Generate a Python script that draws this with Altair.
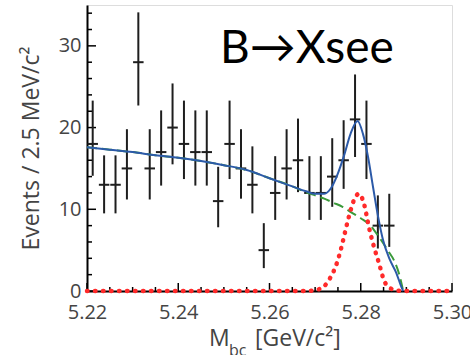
import altair as alt
import pandas as pd

# ---- data ----
bin_m = [5.22125, 5.22375, 5.22625, 5.22875, 5.23125, 5.23375, 5.23625, 5.23875,
         5.24125, 5.24375, 5.24625, 5.24875, 5.25125, 5.25375, 5.25625, 5.25875,
         5.26125, 5.26375, 5.26625, 5.26875, 5.27125, 5.27375, 5.27625, 5.27875,
         5.28125, 5.28375, 5.28625]
counts = [18, 13, 13, 15, 28, 15, 17, 20, 18, 17, 17, 11, 18, 15, 13, 5, 12, 15, 16,
          12, 12, 14, 16, 21, 18, 8, 8]
err_hi = [23.3, 16.6, 16.6, 19.8, 34.1, 19.8, 22.1, 25.4, 23.3, 22.1, 22.1, 15.2, 23.3,
          19.8, 17.7, 8.3, 16.5, 19.8, 21.1, 16.5, 16.5, 18.7, 20.9, 26.5, 23.3, 11.7, 11.9]
err_lo = [14.1, 9.5, 9.5, 11.2, 22.7, 11.2, 12.9, 15.5, 13.7, 12.9, 12.9, 7.8, 13.7,
          11.3, 9.5, 2.8, 8.7, 11.2, 12.1, 8.7, 8.7, 10.3, 12.5, 16.4, 13.7, 5.2, 5.4]
half_bin = 0.00115

bkg_m = [5.2200, 5.2250, 5.2300, 5.2350, 5.2400, 5.2450, 5.2500, 5.2550, 5.2600, 5.2650,
         5.2680, 5.2700, 5.2720, 5.2740, 5.2760, 5.2780, 5.2800, 5.2820, 5.2840, 5.2860,
         5.2875, 5.2885, 5.2893]
bkg_v = [17.6, 17.3, 17.0, 16.6, 16.3, 15.9, 15.4, 14.8, 13.8, 12.8, 12.1, 11.7, 11.3,
         10.8, 10.3, 9.6, 8.9, 8.1, 6.6, 4.9, 3.5, 1.9, 0.0]

tot_m = [5.2200, 5.2250, 5.2300, 5.2350, 5.2400, 5.2450, 5.2500, 5.2550, 5.2600, 5.2650,
         5.2680, 5.2700, 5.2720, 5.2735, 5.2750, 5.2763, 5.2778, 5.2793, 5.2805, 5.2816,
         5.2827, 5.2838, 5.2849, 5.2864, 5.2878, 5.2889, 5.2893]
tot_v = [17.6, 17.3, 17.0, 16.6, 16.3, 15.9, 15.4, 14.8, 13.8, 12.8, 12.2, 11.9, 11.9,
         12.6, 14.4, 16.5, 19.3, 20.8, 19.2, 16.4, 12.7, 9.1, 6.2, 3.8, 2.2, 0.5, 0.0]

sig_m = [5.2200, 5.2680, 5.2700, 5.2720, 5.2735, 5.2745, 5.2756, 5.2763, 5.2774, 5.2785,
         5.2796, 5.2807, 5.2818, 5.2829, 5.2840, 5.2851, 5.2866, 5.2880, 5.2900, 5.3000]
sig_v = [0, 0, 0.1, 0.6, 1.8, 3.0, 5.0, 6.6, 9.1, 11.1, 11.9, 10.7, 7.8, 5.4, 3.4, 1.3,
         0.3, 0.05, 0, 0]

x_labels = [5.22, 5.24, 5.26, 5.28, 5.30]
x_minor = [5.225, 5.23, 5.235, 5.245, 5.25, 5.255, 5.265, 5.27, 5.275, 5.285, 5.29, 5.295]
y_labels = [0, 10, 20, 30]
y_minor = [2, 4, 6, 8, 12, 14, 16, 18, 22, 24, 26, 28, 32, 34]

W, H = 365, 286
FONT = "Open Sans"
GREY = "#444444"

xscale = alt.Scale(domain=[5.22, 5.30], nice=False, zero=False)
yscale = alt.Scale(domain=[0, 35], nice=False, zero=False)

xaxis = alt.Axis(values=x_labels, format=".2f", labelFont=FONT, labelFontSize=20,
                 labelColor=GREY, ticks=False, grid=False, domainColor="black",
                 domainWidth=2, labelPadding=11, labelOverlap=False, labelFlush=False,
                 title=None)
yaxis = alt.Axis(values=y_labels, labelFont=FONT, labelFontSize=20, labelColor=GREY,
                 ticks=False, grid=False, domainColor="black", domainWidth=2,
                 labelPadding=6, title="Events / 2.5 MeV/c²", titleFont=FONT,
                 titleFontSize=23, titleFontWeight="normal", titleColor=GREY,
                 titlePadding=15)


def X(field="m"):
    return alt.X(f"{field}:Q", scale=xscale, axis=xaxis)


def Y(field="v"):
    return alt.Y(f"{field}:Q", scale=yscale, axis=yaxis)


pts = pd.DataFrame({"m": bin_m, "v": counts, "lo": err_lo, "hi": err_hi})
pts["m1"] = pts["m"] - half_bin
pts["m2"] = pts["m"] + half_bin

vbars = alt.Chart(pts).mark_rule(color="#1e1e1e", strokeWidth=2).encode(
    x=X(), y=Y("lo"), y2="hi:Q")
hbars = alt.Chart(pts).mark_rule(color="#1e1e1e", strokeWidth=2).encode(
    x=X("m1"), x2="m2:Q", y=Y())

bkg = alt.Chart(pd.DataFrame({"m": bkg_m, "v": bkg_v})).mark_line(
    color="#3a9a3a", strokeWidth=2, strokeDash=[10, 5], interpolate="monotone"
).encode(x=X(), y=Y())
tot = alt.Chart(pd.DataFrame({"m": tot_m, "v": tot_v})).mark_line(
    color="#2c5aa8", strokeWidth=2, interpolate="monotone"
).encode(x=X(), y=Y())
sig = alt.Chart(pd.DataFrame({"m": sig_m, "v": sig_v})).mark_line(
    color="#ff2a2a", strokeWidth=4.5, strokeDash=[0.5, 7.5], strokeCap="round",
    interpolate="monotone"
).encode(x=X(), y=Y())

# inward ticks
xmaj = alt.Chart(pd.DataFrame({"m": x_labels})).mark_rule(color="black", strokeWidth=1.5).encode(
    x=X(), y=alt.value(H), y2=alt.value(H - 8))
xmin = alt.Chart(pd.DataFrame({"m": x_minor})).mark_rule(color="black", strokeWidth=1.5).encode(
    x=X(), y=alt.value(H), y2=alt.value(H - 4))
ymaj = alt.Chart(pd.DataFrame({"v": y_labels})).mark_rule(color="black", strokeWidth=1.5).encode(
    y=Y(), x=alt.value(0), x2=alt.value(9))
ymin = alt.Chart(pd.DataFrame({"v": y_minor})).mark_rule(color="black", strokeWidth=1.5).encode(
    y=Y(), x=alt.value(0), x2=alt.value(5))

# annotation texts
one = pd.DataFrame({"t": ["B→Xsee"]})
title_txt = alt.Chart(one).mark_text(font="Lato", fontSize=46, color="black",
                                     align="left", baseline="alphabetic").encode(
    text="t:N", x=alt.value(133), y=alt.value(58))

xt_M = alt.Chart(pd.DataFrame({"t": ["M"]})).mark_text(
    font=FONT, fontSize=23, color=GREY, align="left", baseline="alphabetic").encode(
    text="t:N", x=alt.value(122), y=alt.value(341))
xt_bc = alt.Chart(pd.DataFrame({"t": ["bc"]})).mark_text(
    font=FONT, fontSize=16, color=GREY, align="left", baseline="alphabetic").encode(
    text="t:N", x=alt.value(142), y=alt.value(351))
xt_unit = alt.Chart(pd.DataFrame({"t": ["[GeV/c²]"]})).mark_text(
    font=FONT, fontSize=23, color=GREY, align="left", baseline="alphabetic").encode(
    text="t:N", x=alt.value(168), y=alt.value(341))

chart = alt.layer(
    xmaj, xmin, ymaj, ymin, vbars, hbars, bkg, tot, sig, title_txt, xt_M, xt_bc, xt_unit
).properties(
    width=W, height=H,
    padding={"left": 87, "top": 5, "right": 18, "bottom": 64},
    autosize=alt.AutoSizeParams(type="none"),
).configure_view(stroke="#555555", strokeWidth=2).configure(background="white")

chart.save("out.html", embed_options={"renderer": "svg", "actions": False})
